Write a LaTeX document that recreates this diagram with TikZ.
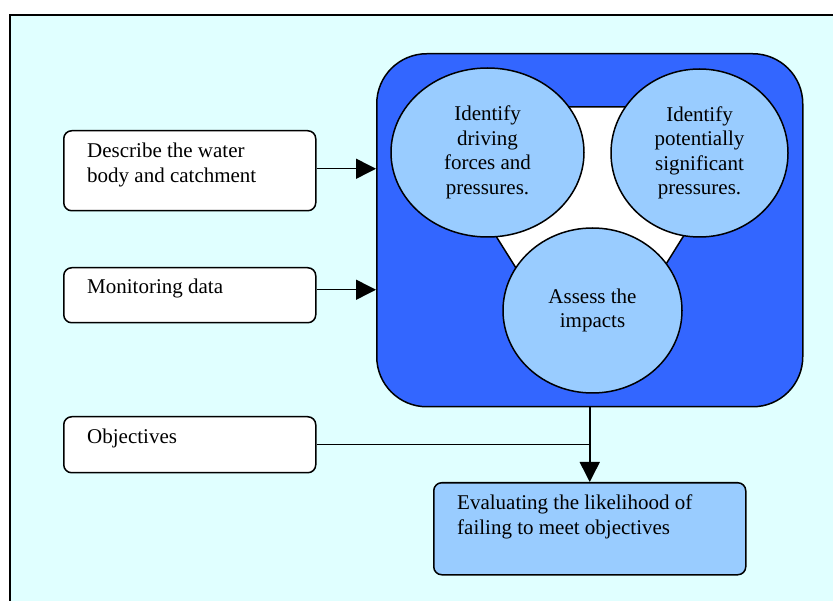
\documentclass[tikz,border=0pt]{standalone}
\usepackage{fontspec}
\setmainfont{Liberation Serif}
\usetikzlibrary{arrows.meta,shapes.geometric}
\definecolor{bgcyan}{HTML}{E0FFFF}
\definecolor{deepblue}{HTML}{3366FF}
\definecolor{paleblue}{HTML}{99CCFF}
\begin{document}
\begin{tikzpicture}[x=1pt,y=-1pt,
  every node/.style={font=\fontsize{21}{25}\selectfont},
  inbox/.style={draw, line width=1.5pt, rounded corners=8pt, fill=white, anchor=north west, inner sep=0pt},
  txt/.style={anchor=north west, inner sep=0pt, align=left},
  bubble/.style={ellipse, draw, line width=1.5pt, fill=paleblue, inner sep=0pt, align=center, font=\fontsize{21}{24.5}\selectfont},
  arr/.style={line width=1.5pt, -{Triangle[length=20pt,width=20pt]}},
  link/.style={line width=1.5pt}]
\clip (0,0) rectangle (833,601);
\fill[white] (0,0) rectangle (833,601);
\draw[line width=2pt, fill=bgcyan] (10,15) rectangle (860,640);
% central block
\node[draw, line width=1.5pt, fill=deepblue, rounded corners=50pt, minimum width=426pt, minimum height=353pt, anchor=north west, inner sep=0pt] (core) at (376,53) {};
\draw[line width=1.5pt, fill=white] (415,107) -- (764,107) -- (590,386) -- cycle;
\node[bubble, minimum width=193pt, minimum height=169pt] (drive) at (487.5,152.5) {Identify\\driving\\forces and\\pressures.};
\node[bubble, minimum width=177pt, minimum height=168pt] (signif) at (699.5,153) {Identify\\potentially\\significant\\pressures.};
\node[bubble, minimum width=179pt, minimum height=165pt] (impact) at (592.5,310.5) {Assess the\\impacts};
% input boxes
\node[inbox, minimum width=252pt, minimum height=80pt] (b1) at (63,130) {};
\node[txt] (t1) at (87,143) {Describe the water\\body and catchment};
\node[inbox, minimum width=252pt, minimum height=55pt] (b2) at (63,267) {};
\node[txt] (t2) at (87,279) {Monitoring data};
\node[inbox, minimum width=252pt, minimum height=56pt] (b3) at (63,416) {};
\node[txt] (t3) at (87,429) {Objectives};
% output box
\node[inbox, fill=paleblue, minimum width=312pt, minimum height=92pt] (eval) at (433,482) {};
\node[txt] (t4) at (457,495) {Evaluating the likelihood of\\failing to meet objectives};
% connectors
\draw[arr] ([yshift=2pt]b1.east) -- ([yshift=2pt]b1.east -| core.west);
\draw[arr] ([yshift=5.5pt]b2.east) -- ([yshift=5.5pt]b2.east -| core.west);
\draw[link] (b3.east) -- (b3.east -| core.south);
\draw[arr] (core.south) -- (eval.north);
\end{tikzpicture}
\end{document}
